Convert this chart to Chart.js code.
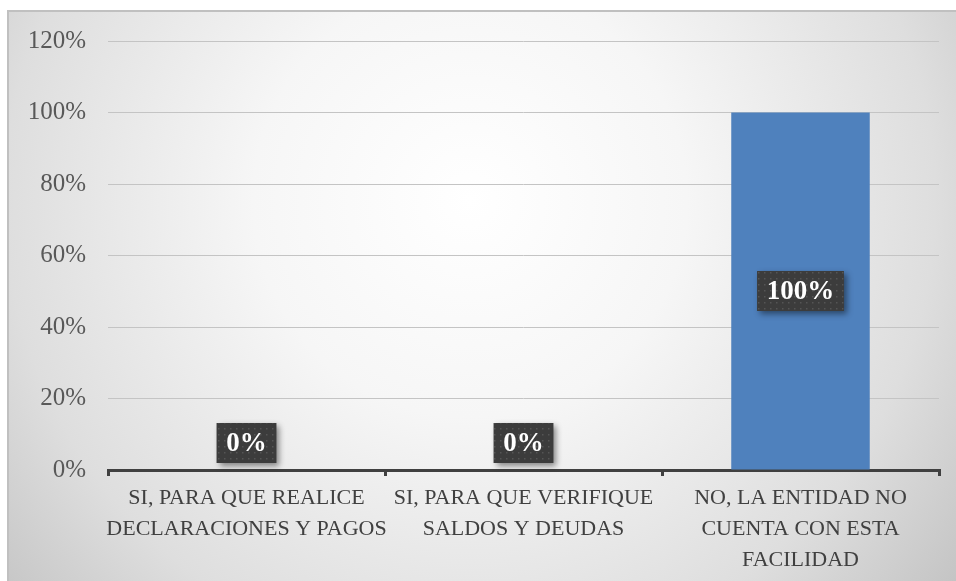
<!DOCTYPE html>
<html><head><meta charset="utf-8">
<script src="https://cdn.jsdelivr.net/npm/chart.js@4/dist/chart.umd.min.js"></script>
<style>html,body{margin:0;padding:0;background:#fff;}#wrap{width:956px;height:581px;position:relative;}</style>
</head><body><div id="wrap"><canvas id="c" width="956" height="581"></canvas></div>
<script>
const categories = [
  ["SI, PARA QUE REALICE", "DECLARACIONES Y PAGOS"],
  ["SI, PARA QUE VERIFIQUE", "SALDOS Y DEUDAS"],
  ["NO, LA ENTIDAD NO", "CUENTA CON ESTA", "FACILIDAD"]
];
const values = [0, 0, 100];
const valueLabels = ["0%", "0%", "100%"];
const yTicks = [0, 20, 40, 60, 80, 100, 120];

const FONT = "'Liberation Serif', 'DejaVu Serif', serif";

const bgPlugin = {
  id: 'bg',
  beforeDraw(chart) {
    const ctx = chart.ctx;
    ctx.save();
    ctx.fillStyle = '#ffffff';
    ctx.fillRect(0, 0, chart.width, chart.height);
    const g = ctx.createRadialGradient(470, 200, 0, 470, 200, 620);
    g.addColorStop(0, '#ffffff');
    g.addColorStop(0.35, '#f6f6f6');
    g.addColorStop(0.75, '#dedede');
    g.addColorStop(1, '#c4c4c4');
    ctx.fillStyle = g;
    ctx.fillRect(7, 10, chart.width - 7, chart.height - 10);
    ctx.strokeStyle = '#c0c0c0';
    ctx.lineWidth = 2;
    ctx.beginPath();
    ctx.moveTo(8, chart.height);
    ctx.lineTo(8, 11);
    ctx.lineTo(chart.width, 11);
    ctx.stroke();
    ctx.restore();
  }
};

function makePattern(ctx) {
  const p = document.createElement('canvas');
  p.width = 6; p.height = 6;
  const pc = p.getContext('2d');
  pc.fillStyle = '#3c3c3c';
  pc.fillRect(0, 0, 6, 6);
  pc.fillStyle = '#555555';
  pc.fillRect(2, 2, 1.5, 1.5);
  return ctx.createPattern(p, 'repeat');
}

const labelPlugin = {
  id: 'vlabels',
  afterDatasetsDraw(chart) {
    const ctx = chart.ctx;
    const meta = chart.getDatasetMeta(0);
    const yScale = chart.scales.y;
    const pattern = makePattern(ctx);
    ctx.save();
    ctx.font = "bold 27px " + FONT;
    meta.data.forEach((bar, i) => {
      const txt = valueLabels[i];
      const w = ctx.measureText(txt).width + 19;
      const h = 40;
      let cy;
      if (values[i] === 0) {
        cy = yScale.getPixelForValue(0) - 27;
      } else {
        cy = (bar.y + bar.base) / 2;
      }
      const x0 = bar.x - w / 2, y0 = cy - h / 2;
      ctx.save();
      ctx.shadowColor = 'rgba(0,0,0,0.45)';
      ctx.shadowBlur = 6;
      ctx.shadowOffsetX = 3;
      ctx.shadowOffsetY = 3;
      ctx.fillStyle = '#3c3c3c';
      ctx.fillRect(x0, y0, w, h);
      ctx.restore();
      ctx.fillStyle = pattern;
      ctx.fillRect(x0, y0, w, h);
      ctx.fillStyle = '#ffffff';
      ctx.textAlign = 'center';
      ctx.textBaseline = 'middle';
      ctx.fillText(txt, bar.x, cy + 1);
    });
    ctx.restore();
  }
};

new Chart(document.getElementById('c'), {
  type: 'bar',
  data: {
    labels: categories,
    datasets: [{
      data: values,
      backgroundColor: '#4f81bd',
      barPercentage: 0.5,
      categoryPercentage: 1.0
    }]
  },
  options: {
    responsive: false,
    animation: false,
    events: [],
    layout: { padding: { left: 0, right: 17, top: 41, bottom: 0 } },
    plugins: { legend: { display: false }, tooltip: { enabled: false } },
    scales: {
      x: {
        afterFit(s) { s.height = 111; },
        grid: { display: true, drawOnChartArea: false, drawTicks: true, tickLength: 6, color: '#404040', lineWidth: 3, offset: true },
        border: { display: true, color: '#404040', width: 3 },
        ticks: { color: '#404040', padding: 7, maxRotation: 0, autoSkip: false,
          font: { family: FONT, size: 22, lineHeight: 1.41 } }
      },
      y: {
        min: 0, max: 120,
        afterFit(s) { s.width = 108; },
        afterBuildTicks(s) { s.ticks = yTicks.map(v => ({ value: v })); },
        grid: { color: '#c4c4c4', lineWidth: 1, drawTicks: false },
        border: { display: false },
        ticks: { color: '#595959', font: { family: FONT, size: 25 }, padding: 22, callback: v => v + '%' }
      }
    }
  },
  plugins: [bgPlugin, labelPlugin]
});
</script></body></html>
